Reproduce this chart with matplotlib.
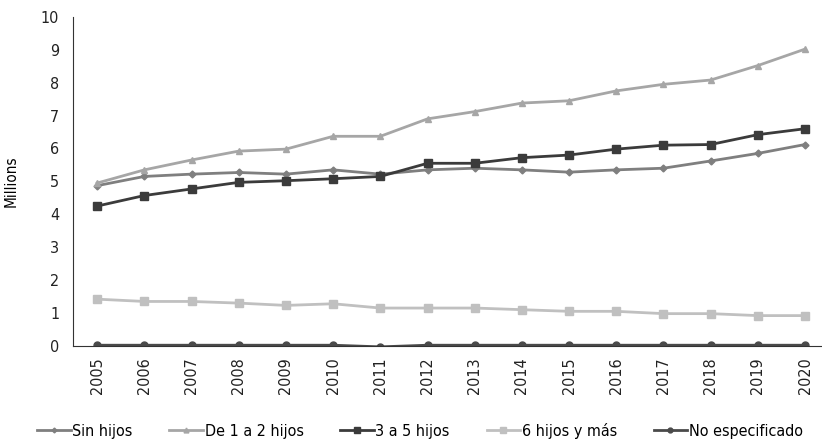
import matplotlib.pyplot as plt
from matplotlib import font_manager

years = list(range(2005, 2021))
sin_hijos = [4.87, 5.15, 5.22, 5.27, 5.22, 5.35, 5.22, 5.35, 5.40, 5.35, 5.28, 5.35, 5.40, 5.62, 5.85, 6.12]
de_1_a_2 = [4.95, 5.35, 5.65, 5.92, 5.98, 6.37, 6.37, 6.90, 7.12, 7.38, 7.45, 7.75, 7.95, 8.08, 8.52, 9.02]
de_3_a_5 = [4.25, 4.57, 4.77, 4.97, 5.02, 5.08, 5.15, 5.55, 5.55, 5.72, 5.80, 5.98, 6.10, 6.12, 6.42, 6.60]
seis_mas = [1.42, 1.35, 1.35, 1.30, 1.23, 1.28, 1.15, 1.15, 1.15, 1.10, 1.05, 1.05, 0.98, 0.98, 0.92, 0.92]
no_espec = [0.02, 0.02, 0.02, 0.02, 0.02, 0.02, -0.03, 0.02, 0.02, 0.02, 0.02, 0.02, 0.02, 0.02, 0.02, 0.02]

# condensed face if there is one
cond = [f for f in font_manager.fontManager.ttflist
        if f.name == 'DejaVu Sans' and f.stretch == 'condensed']
plt.rcParams['font.family'] = ['DejaVu Sans']
if cond:
    plt.rcParams['font.stretch'] = 'condensed'

fig = plt.figure(figsize=(8.22, 4.44), dpi=100)
ax = fig.add_axes([0.089, 0.221, 0.911, 0.741])

series = [
    ("Sin hijos", sin_hijos, '#7f7f7f', 'D', 3.5),
    ("De 1 a 2 hijos", de_1_a_2, '#a6a6a6', '^', 5),
    ("3 a 5 hijos", de_3_a_5, '#3b3b3b', 's', 6),
    ("6 hijos y más", seis_mas, '#c0c0c0', 's', 6),
    ("No especificado", no_espec, '#4a4a4a', 'o', 5),
]
for name, vals, c, m, ms in series:
    ax.plot(years, vals, color=c, marker=m, markersize=ms, linewidth=2, label=name)

ax.set_xlim(2004.49, 2020.36)
ax.set_ylim(0, 10)
ax.set_yticks(range(0, 11))
ax.set_xticks(years)
ax.set_xticklabels([str(y) for y in years], rotation=90)
ax.tick_params(length=0, labelsize=11.5, colors='#222222')
ax.tick_params(axis='x', pad=8)
ax.tick_params(axis='y', pad=10)
for s in ['top', 'right']:
    ax.spines[s].set_visible(False)
for s in ['left', 'bottom']:
    ax.spines[s].set_color('#333333')
ax.set_ylabel("Millions", fontsize=11, labelpad=16)

fig.legend(loc='lower center', ncol=5, frameon=False, fontsize=11.5,
           bbox_to_anchor=(0.511, -0.02), handlelength=2.1, columnspacing=2.3,
           handletextpad=0.1, markerscale=0.7)

fig.savefig('out.png', dpi=100)
